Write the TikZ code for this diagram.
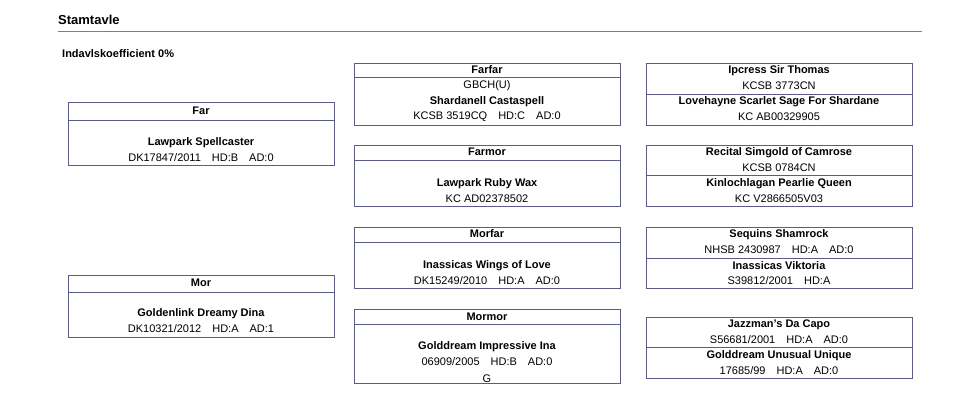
\documentclass[tikz,border=0pt]{standalone}
\usepackage{fontspec}
\setmainfont{Liberation Sans}
\definecolor{frame}{HTML}{5C5C88}
\tikzset{
  box/.style={draw=frame, rectangle, line width=0.8pt, minimum width=266pt, anchor=north west, inner sep=0pt},
  txt/.style={font=\fontsize{11}{13}\selectfont, inner sep=0pt},
  dogname/.style={txt, font=\fontsize{11}{13}\selectfont\bfseries}
}
\begin{document}
\begin{tikzpicture}[x=1pt, y=-1pt]
        \useasboundingbox (0,0) rectangle (980,414);

        % Title and rule
        \node[anchor=west, inner sep=0pt, font=\fontsize{13}{15}\selectfont\bfseries] (title) at (58, 20) {Stamtavle};
        \draw[gray, line width=0.6pt] (58, 31) -- (922, 31);
        \node[anchor=west, dogname] (coeff) at (62, 54) {Indavlskoefficient 0\%};

        % Parents
        \node[box, minimum height=63pt] (far) at (68, 102) {};
        \draw[frame, line width=0.8pt] (68, 120) -- (334, 120);
        \node[dogname] (farhead) at (201, 111) {Far};
        \node[dogname] (farname) at (201, 143) {Lawpark Spellcaster};
        \node[txt] (farreg) at (201, 158) {DK17847/2011\quad HD:B\quad AD:0};

        \node[box, minimum height=62pt] (mor) at (68, 275) {};
        \draw[frame, line width=0.8pt] (68, 292) -- (334, 292);
        \node[dogname] (morhead) at (201, 283) {Mor};
        \node[dogname] (morname) at (201, 314) {Goldenlink Dreamy Dina};
        \node[txt] (morreg) at (201, 329) {DK10321/2012\quad HD:A\quad AD:1};

        % Grandparents
        \node[box, minimum height=62pt] (farfar) at (354, 63) {};
        \draw[frame, line width=0.8pt] (354, 77) -- (620, 77);
        \node[dogname] (farfarhead) at (487, 70) {Farfar};
        \node[txt] (farfartitle) at (487, 86) {GBCH(U)};
        \node[dogname] (farfarname) at (487, 102) {Shardanell Castaspell};
        \node[txt] (farfarreg) at (487, 117) {KCSB 3519CQ\quad HD:C\quad AD:0};

        \node[box, minimum height=61pt] (farmor) at (354, 145) {};
        \draw[frame, line width=0.8pt] (354, 160) -- (620, 160);
        \node[dogname] (farmorhead) at (487, 152) {Farmor};
        \node[dogname] (farmorname) at (487, 184) {Lawpark Ruby Wax};
        \node[txt] (farmorreg) at (487, 199) {KC AD02378502};

        \node[box, minimum height=61pt] (morfar) at (354, 227) {};
        \draw[frame, line width=0.8pt] (354, 242) -- (620, 242);
        \node[dogname] (morfarhead) at (487, 234) {Morfar};
        \node[dogname] (morfarname) at (487, 266) {Inassicas Wings of Love};
        \node[txt] (morfarreg) at (487, 281) {DK15249/2010\quad HD:A\quad AD:0};

        \node[box, minimum height=74pt] (mormor) at (354, 309) {};
        \draw[frame, line width=0.8pt] (354, 324) -- (620, 324);
        \node[dogname] (mormorhead) at (487, 317) {Mormor};
        \node[dogname] (mormorname) at (487, 347) {Golddream Impressive Ina};
        \node[txt] (mormorreg) at (487, 362) {06909/2005\quad HD:B\quad AD:0};
        \node[txt] (mormorextra) at (487, 379) {G};

        % Great-grandparents
        \node[box, minimum height=62pt] (ff) at (646, 63) {};
        \draw[frame, line width=0.8pt] (646, 94) -- (912, 94);
        \node[dogname] (ffaname) at (779, 71) {Ipcress Sir Thomas};
        \node[txt] (ffareg) at (779, 86) {KCSB 3773CN};
        \node[dogname] (ffmname) at (779, 102) {Lovehayne Scarlet Sage For Shardane};
        \node[txt] (ffmreg) at (779, 117) {KC AB00329905};

        \node[box, minimum height=61pt] (fm) at (646, 145) {};
        \draw[frame, line width=0.8pt] (646, 175) -- (912, 175);
        \node[dogname] (fmfname) at (779, 153) {Recital Simgold of Camrose};
        \node[txt] (fmfreg) at (779, 168) {KCSB 0784CN};
        \node[dogname] (fmmname) at (779, 184) {Kinlochlagan Pearlie Queen};
        \node[txt] (fmmreg) at (779, 199) {KC V2866505V03};

        \node[box, minimum height=61pt] (mf) at (646, 227) {};
        \draw[frame, line width=0.8pt] (646, 258) -- (912, 258);
        \node[dogname] (mffname) at (779, 235) {Sequins Shamrock};
        \node[txt] (mffreg) at (779, 250) {NHSB 2430987\quad HD:A\quad AD:0};
        \node[dogname] (mfmname) at (779, 266) {Inassicas Viktoria};
        \node[txt] (mfmreg) at (779, 281) {S39812/2001\quad HD:A};

        \node[box, minimum height=61pt] (mm) at (646, 317) {};
        \draw[frame, line width=0.8pt] (646, 347) -- (912, 347);
        \node[dogname] (mmfname) at (779, 325) {Jazzman's Da Capo};
        \node[txt] (mmfreg) at (779, 340) {S56681/2001\quad HD:A\quad AD:0};
        \node[dogname] (mmmname) at (779, 356) {Golddream Unusual Unique};
        \node[txt] (mmmreg) at (779, 371) {17685/99\quad HD:A\quad AD:0};

    \end{tikzpicture}
\end{document}
